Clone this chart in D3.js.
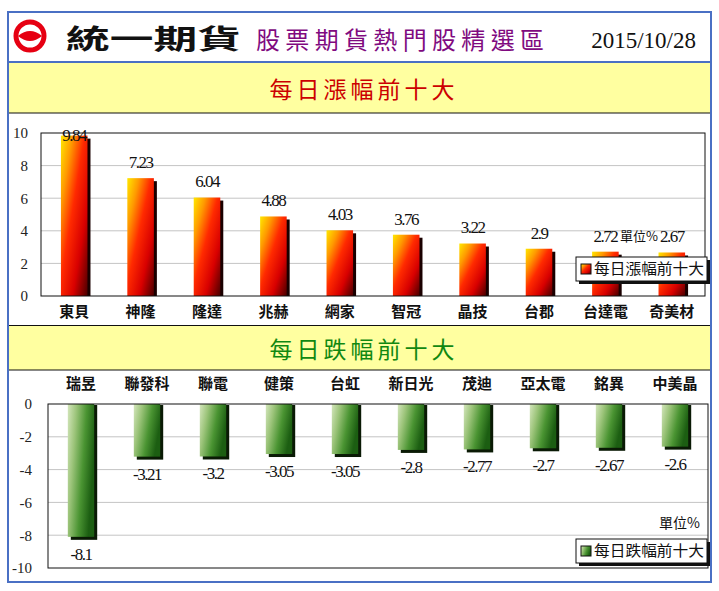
<!DOCTYPE html>
<html>
<head>
<meta charset="utf-8">
<script src="https://cdn.jsdelivr.net/npm/d3@7"></script>
<style>
  body { margin: 0; background: #fff; }
  svg text { font-family: "Noto Sans CJK TC", sans-serif; }
  .num { font-family: "Liberation Serif", "DejaVu Serif", serif; }
</style>
</head>
<body>
<div id="chart"></div>
<script>
// top ten gainers / losers, 2015/10/28
const upNames = ["東貝", "神隆", "隆達", "兆赫", "網家", "智冠", "晶技", "台郡", "台達電", "奇美材"];
const upValues = [9.84, 7.23, 6.04, 4.88, 4.03, 3.76, 3.22, 2.9, 2.72, 2.67];
const downNames = ["瑞昱", "聯發科", "聯電", "健策", "台虹", "新日光", "茂迪", "亞太電", "銘異", "中美晶"];
const downValues = [-8.1, -3.21, -3.2, -3.05, -3.05, -2.8, -2.77, -2.7, -2.67, -2.6];
const upTicks = [0, 2, 4, 6, 8, 10];
const downTicks = [0, -2, -4, -6, -8, -10];

const width = 719, height = 591;

const svg = d3.select("#chart").append("svg")
  .attr("width", width)
  .attr("height", height);

const defs = svg.append("defs");

const redGrad = defs.append("linearGradient").attr("id", "redGrad")
  .attr("x1", 0).attr("y1", 0).attr("x2", 1).attr("y2", 1);
[[0, "#ffe800"], [0.22, "#ff9a00"], [0.45, "#ff2a00"], [0.72, "#d80000"], [1, "#4a0000"]]
  .forEach(s => redGrad.append("stop").attr("offset", s[0]).attr("stop-color", s[1]));

const greenGrad = defs.append("linearGradient").attr("id", "greenGrad")
  .attr("x1", 0).attr("y1", 0).attr("x2", 1).attr("y2", 0.35);
[[0, "#d4e6bc"], [0.3, "#9cc47a"], [0.65, "#4a9432"], [1, "#1c5e12"]]
  .forEach(s => greenGrad.append("stop").attr("offset", s[0]).attr("stop-color", s[1]));

// frame and bands
svg.append("rect").attr("x", 8).attr("y", 12).attr("width", 703).attr("height", 570)
  .attr("fill", "#fff").attr("stroke", "#4a70c4").attr("stroke-width", 2);
svg.append("rect").attr("x", 9).attr("y", 63).attr("width", 701).attr("height", 50).attr("fill", "#ffffa0");
svg.append("rect").attr("x", 9).attr("y", 326).attr("width", 701).attr("height", 44).attr("fill", "#ffffa0");
svg.append("line").attr("x1", 9).attr("x2", 710).attr("y1", 62).attr("y2", 62)
  .attr("stroke", "#4a70c4").attr("stroke-width", 2);
[113, 325.5, 370].forEach(y => {
  svg.append("line").attr("x1", 9).attr("x2", 710).attr("y1", y).attr("y2", y)
    .attr("stroke", "#111").attr("stroke-width", 1.2);
});

// header
const logo = svg.append("g").attr("transform", "translate(30,36)");
logo.append("circle").attr("r", 14).attr("fill", "none").attr("stroke", "#e60012").attr("stroke-width", 5);
logo.append("path").attr("d", "M-12,0 Q0,-10 12,0 Q0,10 -12,0Z").attr("fill", "#e60012");

svg.append("text").attr("x", 66).attr("y", 49)
  .attr("font-size", 27).attr("font-weight", 700).attr("fill", "#111")
  .attr("textLength", 175).attr("lengthAdjust", "spacingAndGlyphs")
  .text("統一期貨");
svg.append("text").attr("x", 256).attr("y", 49)
  .attr("font-size", 24).attr("fill", "#800a80")
  .attr("textLength", 288).attr("lengthAdjust", "spacing")
  .text("股票期貨熱門股精選區");
svg.append("text").attr("class", "num").attr("x", 696).attr("y", 48)
  .attr("text-anchor", "end").attr("font-size", 23).attr("fill", "#111")
  .text("2015/10/28");

svg.append("text").attr("x", 362).attr("y", 98).attr("text-anchor", "middle")
  .attr("font-size", 23).attr("fill", "#cc0000")
  .attr("textLength", 185).attr("lengthAdjust", "spacing")
  .text("每日漲幅前十大");
svg.append("text").attr("x", 362).attr("y", 358).attr("text-anchor", "middle")
  .attr("font-size", 23).attr("fill", "#118811")
  .attr("textLength", 185).attr("lengthAdjust", "spacing")
  .text("每日跌幅前十大");

// ---- gainers chart
const x1 = d3.scaleBand().domain(upNames).range([41, 705]).paddingInner(0.6).paddingOuter(0.3);
const y1 = d3.scaleLinear().domain([0, 10]).range([296, 133]);

const g1 = svg.append("g");
g1.selectAll(".grid").data(upTicks.slice(1, -1)).enter().append("line")
  .attr("x1", 41).attr("x2", 705)
  .attr("y1", d => y1(d)).attr("y2", d => y1(d))
  .attr("stroke", "#c4c4c4");

g1.append("g")
  .attr("transform", "translate(41,0)")
  .call(d3.axisLeft(y1).tickValues(upTicks).tickSize(0).tickPadding(13))
  .call(g => g.select(".domain").remove())
  .selectAll("text").attr("class", "num").attr("font-size", 15).attr("fill", "#222");

const upData = upNames.map((n, i) => ({ name: n, value: upValues[i] }));

g1.selectAll(".shadow").data(upData).enter().append("rect")
  .attr("x", d => x1(d.name) + 3)
  .attr("y", d => y1(d.value) + 3)
  .attr("width", x1.bandwidth())
  .attr("height", d => y1(0) - y1(d.value) - 3)
  .attr("fill", "#1a0000");
g1.selectAll(".bar").data(upData).enter().append("rect")
  .attr("x", d => x1(d.name))
  .attr("y", d => y1(d.value))
  .attr("width", x1.bandwidth())
  .attr("height", d => y1(0) - y1(d.value))
  .attr("fill", "url(#redGrad)");

g1.append("rect").attr("x", 41).attr("y", 133).attr("width", 664).attr("height", 163)
  .attr("fill", "none").attr("stroke", "#111");

g1.selectAll(".val").data(upData).enter().append("text")
  .attr("class", "num")
  .attr("x", d => x1(d.name) + x1.bandwidth() / 2)
  .attr("y", d => Math.max(y1(d.value) - 16, 135))
  .attr("dy", "0.35em")
  .attr("text-anchor", "middle")
  .attr("font-size", 17).attr("letter-spacing", -1.5).attr("fill", "#111")
  .text(d => d.value);

g1.selectAll(".cat").data(upNames).enter().append("text")
  .attr("x", d => x1(d) + x1.bandwidth() / 2)
  .attr("y", 312).attr("dy", "0.35em")
  .attr("text-anchor", "middle")
  .attr("font-size", 15).attr("font-weight", 700).attr("fill", "#111")
  .text(d => d);

g1.append("text").attr("x", 620).attr("y", 236).attr("dy", "0.35em")
  .attr("font-size", 13).attr("fill", "#111").text("單位%");

// legend
const l1 = g1.append("g").attr("transform", "translate(576,257)");
l1.append("rect").attr("x", 3).attr("y", 3).attr("width", 131).attr("height", 24).attr("fill", "#111");
l1.append("rect").attr("width", 131).attr("height", 24).attr("fill", "#fff").attr("stroke", "#111");
l1.append("rect").attr("x", 5).attr("y", 7).attr("width", 10).attr("height", 10)
  .attr("fill", "url(#redGrad)").attr("stroke", "#111");
l1.append("text").attr("x", 18).attr("y", 12).attr("dy", "0.35em")
  .attr("font-size", 15).attr("fill", "#111")
  .attr("textLength", 110).attr("lengthAdjust", "spacingAndGlyphs")
  .text("每日漲幅前十大");

// ---- losers chart
const x2 = d3.scaleBand().domain(downNames).range([48, 708]).paddingInner(0.6).paddingOuter(0.3);
const y2 = d3.scaleLinear().domain([-10, 0]).range([568, 404]);

const g2 = svg.append("g");
g2.selectAll(".grid").data(downTicks.slice(1, -1)).enter().append("line")
  .attr("x1", 48).attr("x2", 708)
  .attr("y1", d => y2(d)).attr("y2", d => y2(d))
  .attr("stroke", "#c4c4c4");

g2.append("g")
  .attr("transform", "translate(48,0)")
  .call(d3.axisLeft(y2).tickValues(downTicks).tickSize(0).tickPadding(16).tickFormat(d => d))
  .call(g => g.select(".domain").remove())
  .selectAll("text").attr("class", "num").attr("font-size", 15).attr("fill", "#222");

const downData = downNames.map((n, i) => ({ name: n, value: downValues[i] }));

g2.selectAll(".shadow").data(downData).enter().append("rect")
  .attr("x", d => x2(d.name) + 3)
  .attr("y", y2(0) + 1)
  .attr("width", x2.bandwidth())
  .attr("height", d => y2(d.value) - y2(0) + 2)
  .attr("fill", "#0a1a05");
g2.selectAll(".bar").data(downData).enter().append("rect")
  .attr("x", d => x2(d.name))
  .attr("y", y2(0))
  .attr("width", x2.bandwidth())
  .attr("height", d => y2(d.value) - y2(0))
  .attr("fill", "url(#greenGrad)");

g2.append("rect").attr("x", 48).attr("y", 404).attr("width", 660).attr("height", 164)
  .attr("fill", "none").attr("stroke", "#111");

g2.selectAll(".val").data(downData).enter().append("text")
  .attr("class", "num")
  .attr("x", d => x2(d.name) + x2.bandwidth() / 2)
  .attr("y", d => y2(d.value) + 17)
  .attr("dy", "0.35em")
  .attr("text-anchor", "middle")
  .attr("font-size", 17).attr("letter-spacing", -1.5).attr("fill", "#111")
  .text(d => d.value);

g2.selectAll(".cat").data(downNames).enter().append("text")
  .attr("x", d => x2(d) + x2.bandwidth() / 2)
  .attr("y", 384).attr("dy", "0.35em")
  .attr("text-anchor", "middle")
  .attr("font-size", 15).attr("font-weight", 700).attr("fill", "#111")
  .text(d => d);

g2.append("text").attr("x", 700).attr("y", 523).attr("dy", "0.35em")
  .attr("text-anchor", "end")
  .attr("font-size", 14).attr("fill", "#111").text("單位%");

const l2 = g2.append("g").attr("transform", "translate(576,539)");
l2.append("rect").attr("x", 3).attr("y", 3).attr("width", 131).attr("height", 24).attr("fill", "#111");
l2.append("rect").attr("width", 131).attr("height", 24).attr("fill", "#fff").attr("stroke", "#111");
l2.append("rect").attr("x", 5).attr("y", 7).attr("width", 10).attr("height", 10)
  .attr("fill", "url(#greenGrad)").attr("stroke", "#111");
l2.append("text").attr("x", 18).attr("y", 12).attr("dy", "0.35em")
  .attr("font-size", 15).attr("fill", "#111")
  .attr("textLength", 110).attr("lengthAdjust", "spacingAndGlyphs")
  .text("每日跌幅前十大");
</script>
</body>
</html>
